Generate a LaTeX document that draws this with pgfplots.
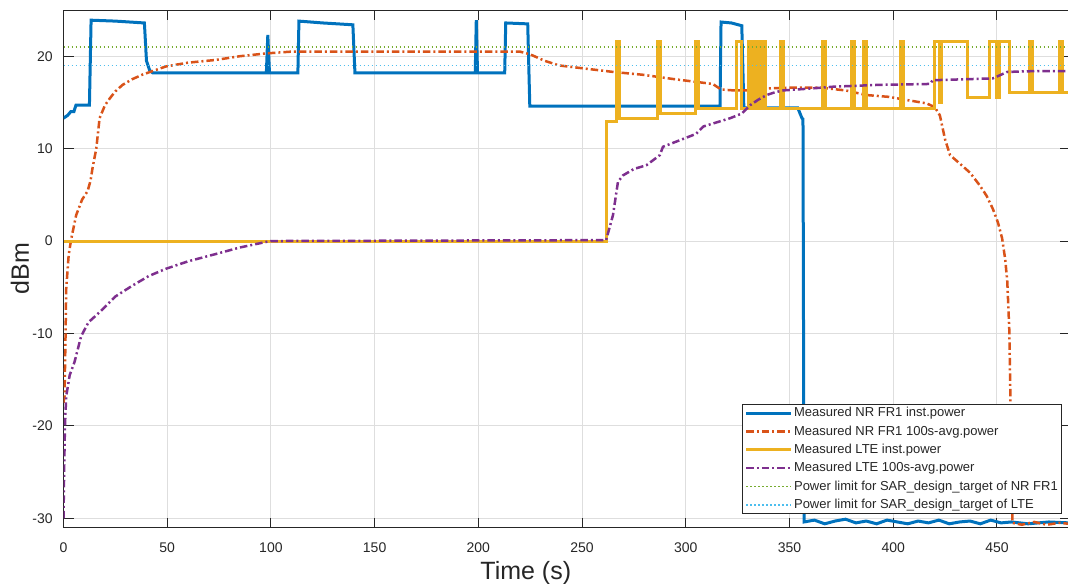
\documentclass[border=0pt]{standalone}
\usepackage{pgfplots}
\pgfplotsset{compat=1.18}
\usepackage{fontspec}
\setmainfont{Liberation Sans}

% MATLAB default line colours
\definecolor{mblue}{rgb}{0,0.447,0.741}
\definecolor{morange}{rgb}{0.85,0.325,0.098}
\definecolor{myellow}{rgb}{0.929,0.694,0.125}
\definecolor{mpurple}{rgb}{0.494,0.184,0.556}
\definecolor{mgreen}{rgb}{0.466,0.674,0.188}
\definecolor{mcyan}{rgb}{0.301,0.745,0.933}
\definecolor{axgray}{rgb}{0.15,0.15,0.15}

\begin{document}
\begin{tikzpicture}
\begin{axis}[
  at={(25.4pt,22.2pt)}, anchor=south west,
  scale only axis, width=402.4pt, height=207pt,
  xmin=0, xmax=485, ymin=-31, ymax=25,
  xtick={0,50,...,450}, ytick={-30,-20,...,20},
  axis line style={axgray, line width=0.4pt},
  tick style={axgray, line width=0.4pt},
  major tick length=4pt, tick align=inside,
  xtick pos=both, ytick pos=both,
  grid=major,
  major grid style={black!13, line width=0.4pt},
  /pgf/number format/assume math mode=true,
  ticklabel style={font=\fontsize{5.6}{6.5}\selectfont, text=axgray},
  xticklabel style={yshift=-2.6pt},
  yticklabel style={xshift=-0.8pt},
  xlabel={Time (s)}, ylabel={dBm},
  label style={font=\fontsize{10}{11}\selectfont, text=axgray},
  xlabel style={at={(axis description cs:0.4595,0)}, anchor=north, inner sep=0pt, yshift=-13.4pt},
  ylabel style={at={(axis description cs:-0.0432,0.5)}, anchor=center, inner sep=0pt},
  legend image code/.code={\draw[#1] (0pt,0pt) -- (18pt,0pt);},
  legend cell align=left,
  legend style={at={(axis cs:481.4,-17.6)}, anchor=north east,
    font=\fontsize{5.2}{6}\selectfont, text=axgray,
    draw=axgray, line width=0.4pt, fill=white,
    inner xsep=1pt, inner ysep=0.6pt, row sep=1.4pt,
    nodes={inner sep=0.5pt, text height=3.9pt, text depth=1.05pt}},
]

% NR FR1 instantaneous power
\addplot[mblue, line width=1.2pt] coordinates {
  (0,13.3) (2,13.6) (3.5,14.0) (5,14.0) (6,14.7) (12.5,14.7) (13.3,23.9)
  (25,23.8) (39,23.6) (40,19.5) (41.5,18.5) (43,18.2) (97.8,18.2) (98.5,22.3)
  (99.3,18.2) (113,18.2) (113.5,23.8) (125,23.6) (139.5,23.4) (140.5,18.2)
  (198.5,18.2) (199,23.9) (199.6,18.2) (212.7,18.2) (213.2,23.6) (223.8,23.5)
  (224.8,14.6) (316.5,14.6) (317,23.7) (322,23.6) (327,23.3) (328,14.4)
  (354,14.4) (356,13.3) (356.5,13.2) (357,-30.4) (362,-30.2) (367,-30.6)
  (372,-30.3) (377,-30.1) (382,-30.5) (387,-30.3) (392,-30.6) (397,-30.2)
  (402,-30.4) (407,-30.6) (412,-30.3) (417,-30.5) (422,-30.2) (427,-30.6)
  (432,-30.4) (437,-30.3) (442,-30.6) (447,-30.2) (452,-30.5) (457,-30.4)
  (465,-30.6) (475,-30.4) (485,-30.5)
};
\addlegendentry{Measured NR FR1 inst.power}

% NR FR1 100 s average
\addplot[morange, line width=1pt, dash pattern=on 3pt off 1.2pt on 0.8pt off 1.2pt] coordinates {
  (0,-17.5) (0.5,-16.8) (1,-10) (1.3,-5.2) (2.5,-1.5) (3.7,0.2) (6.1,2.8)
  (9,4.5) (11.6,5.4) (13,6.5) (14,7.9) (15.8,10) (17.4,13.3) (20,14.7)
  (22.2,15.4) (25,16.2) (28.5,16.9) (33,17.5) (38,18.0) (43,18.4) (49.5,18.9)
  (60,19.3) (73.5,19.6) (85,20.0) (97.6,20.3) (110,20.5) (130,20.5)
  (170,20.5) (210,20.5) (220,20.5) (225,20.2) (232,19.5) (239,19.0)
  (250,18.7) (265,18.3) (279,18.0) (295,17.5) (313,17.0) (317,16.4)
  (323,16.3) (330,16.3) (337,16.5) (350,16.6) (365,16.6) (377,16.3)
  (387,15.8) (398,15.6) (403,15.4) (416,14.9) (420,14.5) (422.5,13.6)
  (425,11) (427.4,9.3) (432,8.4) (437,7.4) (441.8,6.0) (445,4.9) (448,3.5)
  (450.5,2) (452.5,0.3) (454,-2) (455,-4.4) (456,-9.8) (456.5,-17.1)
  (457,-24) (457.5,-30.5) (462,-30.7) (468,-30.4) (474,-30.7) (480,-30.5)
  (485,-30.6)
};
\addlegendentry{Measured NR FR1 100s-avg.power}

% LTE instantaneous power
\addplot[myellow, line width=1.2pt] coordinates {
  (0,0) (262,0) (262,12.9) (266.5,12.9) (266.5,21.6) (268,21.6) (268,13.3)
  (286.5,13.3) (286.5,21.6) (288,21.6) (288,13.8) (304.5,13.8) (304.5,21.6)
  (306,21.6) (306,14.3) (324.5,14.3) (324.5,21.6) (327,21.6) (327,14.3)
  (330,14.3) (330,21.6) (331,21.6) (331,14.3) (332,14.3) (332,21.6)
  (333.5,21.6) (333.5,14.3) (334.5,14.3) (334.5,21.6) (336,21.6) (336,14.3)
  (337,14.3) (337,21.6) (338.5,21.6) (338.5,14.3) (345.5,14.3) (345.5,21.6)
  (347,21.6) (347,14.3) (366,14.3) (366,21.6) (367.5,21.6) (367.5,14.3)
  (380,14.3) (380,21.6) (381.5,21.6) (381.5,14.3) (385.5,14.3) (385.5,21.6)
  (387,21.6) (387,14.3) (403.5,14.3) (403.5,21.6) (405,21.6) (405,14.3)
  (420,14.3) (420,21.6) (422.5,21.6) (422.5,15) (423.5,15) (423.5,21.6)
  (436,21.6) (436,15.5) (446.5,15.5) (446.5,21.6) (450,21.6) (450,15.5)
  (451,15.5) (451,21.6) (456,21.6) (456,16.1) (465.5,16.1) (465.5,21.6)
  (467,21.6) (467,16.1) (480,16.1) (480,21.6) (481.5,21.6) (481.5,16.1)
  (486,16.1)
};
\addlegendentry{Measured LTE inst.power}

% LTE 100 s average
\addplot[mpurple, line width=1pt, dash pattern=on 3pt off 1.2pt on 0.8pt off 1.2pt] coordinates {
  (0,-30) (0.3,-25) (0.7,-20) (1.3,-16.8) (3,-14.5) (5.3,-13.1) (8.5,-10.3)
  (12,-8.8) (17.4,-7.7) (25,-6.0) (33.4,-4.8) (41,-3.8) (49.4,-3.0)
  (60,-2.2) (73.5,-1.4) (85,-0.7) (97.6,-0.1) (100,0) (261.6,0.1)
  (264.9,2.8) (267.3,6.4) (269.7,7.1) (275,7.8) (281,8.2) (287.5,9.3)
  (289,10.2) (297,10.9) (305,11.6) (308.5,12.4) (321.5,13.3) (327,13.8)
  (331,14.7) (335,15.3) (339,15.8) (343,16.1) (347,16.3) (360,16.5)
  (371,16.7) (393,16.9) (417.8,17.0) (419,17.4) (448,17.6) (455,18.3)
  (470,18.4) (485,18.4)
};
\addlegendentry{Measured LTE 100s-avg.power}

% design-target power limits
\addplot[mgreen, line width=0.6pt, dash pattern=on 0.6pt off 1pt] coordinates {(0,21) (485,21)};
\addlegendentry{Power limit for SAR\_design\_target of NR FR1}
\addplot[mcyan, line width=0.6pt, dash pattern=on 0.6pt off 1pt] coordinates {(0,19) (485,19)};
\addlegendentry{Power limit for SAR\_design\_target of LTE}
\end{axis}
\pgfresetboundingbox
\path[use as bounding box] (0pt,0pt) rectangle (427.2pt,233.2pt);
\end{tikzpicture}
\end{document}
